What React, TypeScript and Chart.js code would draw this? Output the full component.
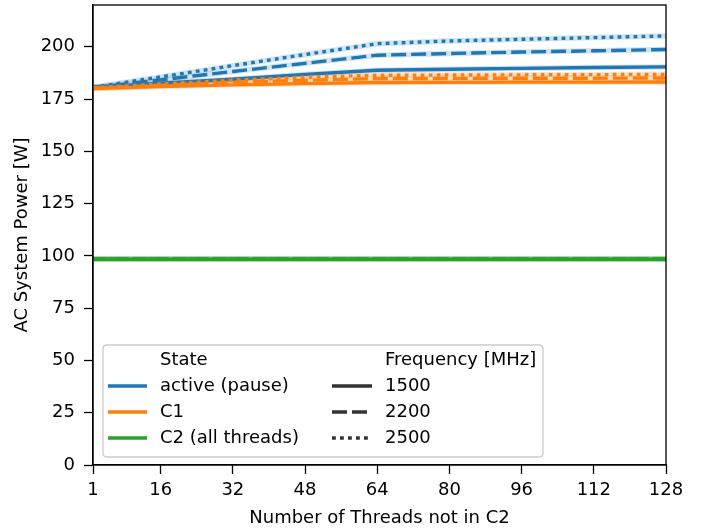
import React, { useEffect, useRef } from "react";
import { Chart, registerables } from "chart.js";

Chart.register(...registerables);

// ---- data ----
const threads = [1, 16, 32, 48, 64, 80, 96, 112, 128];
const xTickValues = [1, 16, 32, 48, 64, 80, 96, 112, 128];
const yTickValues = [0, 25, 50, 75, 100, 125, 150, 175, 200];

const states = ["active (pause)", "C1", "C2 (all threads)"];
const frequencies = ["1500", "2200", "2500"];

const active1500 = [180.5, 182.6, 184.5, 186.8, 188.8, 189.3, 189.7, 190.1, 190.4];
const active2200 = [180.5, 184.2, 188.2, 192.1, 196.0, 196.8, 197.5, 198.1, 198.7];
const active2500 = [180.6, 185.6, 191.0, 196.3, 201.5, 202.8, 203.6, 204.4, 205.2];

const c1_1500 = [180.0, 181.0, 181.8, 182.4, 182.9, 183.0, 183.1, 183.1, 183.2];
const c1_2200 = [180.2, 181.6, 183.0, 184.0, 184.8, 184.9, 185.0, 185.0, 185.1];
const c1_2500 = [180.4, 182.2, 184.0, 185.5, 186.4, 186.5, 186.6, 186.7, 186.8];

const c2_1500 = [98.4, 98.4, 98.4, 98.4, 98.4, 98.4, 98.4, 98.4, 98.4];
const c2_2200 = [98.5, 98.5, 98.5, 98.5, 98.5, 98.5, 98.5, 98.5, 98.5];
const c2_2500 = [98.6, 98.6, 98.6, 98.6, 98.6, 98.6, 98.6, 98.6, 98.6];

const seriesByState = [
  [active1500, active2200, active2500],
  [c1_1500, c1_2200, c1_2500],
  [c2_1500, c2_2200, c2_2500],
];

// ---- styles ----
const stateColors = ["#1f77b4", "#ff7f0e", "#2ca02c"];
const bandColors = ["rgba(31,119,180,0.2)", "rgba(255,127,14,0.2)", "rgba(44,160,44,0.2)"];
const dashes: number[][] = [[], [15, 5], [3.8, 4.2]];
const LW = 3.4;
const FONT = "DejaVu Sans";
const FS = 18;

const framePlugin = {
  id: "frame",
  afterDatasetsDraw(chart: any) {
    const { ctx, chartArea } = chart;
    ctx.save();
    ctx.strokeStyle = "#000";
    ctx.lineWidth = 1.3;
    ctx.strokeRect(chartArea.left, chartArea.top, chartArea.right - chartArea.left, chartArea.bottom - chartArea.top);
    ctx.restore();
  },
};

const legendPlugin = {
  id: "customLegend",
  afterDraw(chart: any) {
    const { ctx, chartArea } = chart;
    const w = 440;
    const h = 112;
    const x0 = chartArea.left + 10;
    const y0 = chartArea.bottom - 8 - h;
    ctx.save();
    const r = 4;
    ctx.beginPath();
    ctx.moveTo(x0 + r, y0);
    ctx.lineTo(x0 + w - r, y0);
    ctx.quadraticCurveTo(x0 + w, y0, x0 + w, y0 + r);
    ctx.lineTo(x0 + w, y0 + h - r);
    ctx.quadraticCurveTo(x0 + w, y0 + h, x0 + w - r, y0 + h);
    ctx.lineTo(x0 + r, y0 + h);
    ctx.quadraticCurveTo(x0, y0 + h, x0, y0 + h - r);
    ctx.lineTo(x0, y0 + r);
    ctx.quadraticCurveTo(x0, y0, x0 + r, y0);
    ctx.closePath();
    ctx.fillStyle = "rgba(255,255,255,0.8)";
    ctx.fill();
    ctx.strokeStyle = "#cccccc";
    ctx.lineWidth = 1.3;
    ctx.stroke();

    ctx.font = `${FS}px "${FONT}"`;
    ctx.textBaseline = "middle";
    ctx.textAlign = "left";
    ctx.fillStyle = "#000";
    const rowY = (i: number) => y0 + 15 + i * 26;
    ctx.fillText("State", x0 + 57, rowY(0));
    ctx.fillText("Frequency [MHz]", x0 + 282, rowY(0));
    states.forEach((s, i) => {
      ctx.strokeStyle = stateColors[i];
      ctx.lineWidth = LW;
      ctx.setLineDash([]);
      ctx.beginPath();
      ctx.moveTo(x0 + 5, rowY(i + 1));
      ctx.lineTo(x0 + 44, rowY(i + 1));
      ctx.stroke();
      ctx.fillStyle = "#000";
      ctx.fillText(s, x0 + 57, rowY(i + 1));
    });
    frequencies.forEach((f, i) => {
      ctx.strokeStyle = "#333333";
      ctx.lineWidth = LW;
      ctx.setLineDash(dashes[i]);
      ctx.beginPath();
      ctx.moveTo(x0 + 229, rowY(i + 1));
      ctx.lineTo(x0 + 269, rowY(i + 1));
      ctx.stroke();
      ctx.setLineDash([]);
      ctx.fillStyle = "#000";
      ctx.fillText(f, x0 + 282, rowY(i + 1));
    });
    ctx.restore();
  },
};

export default function App() {
  const ref = useRef<HTMLCanvasElement>(null);

  useEffect(() => {
    if (!ref.current) return;
    const datasets: any[] = [];
    let idx = 0;
    states.forEach((s, si) => {
      frequencies.forEach((f, fi) => {
        const vals = seriesByState[si][fi];
        const pts = threads.map((x, i) => ({ x, y: vals[i] }));
        datasets.push({
          label: `${s} ${f} band`,
          data: pts,
          borderColor: bandColors[si],
          borderWidth: 5.5,
          pointRadius: 0,
          fill: false,
          tension: 0,
          order: 200 - idx,
        });
        datasets.push({
          label: `${s} ${f}`,
          data: pts,
          borderColor: stateColors[si],
          borderWidth: LW,
          borderDash: dashes[fi],
          borderCapStyle: "butt",
          pointRadius: 0,
          fill: false,
          tension: 0,
          order: 50 - idx,
        });
        idx++;
      });
    });

    const tickFont = { family: FONT, size: FS };
    const chart = new Chart(ref.current, {
      type: "line",
      data: { datasets },
      options: {
        animation: false,
        responsive: false,
        layout: { padding: { top: 5, right: 36, left: 0, bottom: 0 } },
        plugins: { legend: { display: false }, tooltip: { enabled: false } },
        scales: {
          x: {
            type: "linear",
            min: 1,
            max: 128,
            afterBuildTicks: (scale: any) => {
              scale.ticks = xTickValues.map((v) => ({ value: v }));
            },
            afterFit: (scale: any) => {
              scale.height = 64;
              scale.paddingLeft = 0;
              scale.paddingRight = 0;
            },
            ticks: { font: tickFont, color: "#000", autoSkip: false, maxRotation: 0, padding: 6 },
            grid: { drawOnChartArea: false, drawTicks: true, tickLength: 9, tickColor: "#000", tickWidth: 1.3 },
            border: { display: true, color: "#000", width: 1.3 },
            title: {
              display: true,
              text: "Number of Threads not in C2",
              font: tickFont,
              color: "#000",
              padding: { top: 0, bottom: 0 },
            },
          },
          y: {
            type: "linear",
            min: 0,
            max: 220,
            afterBuildTicks: (scale: any) => {
              scale.ticks = yTickValues.map((v) => ({ value: v }));
            },
            afterFit: (scale: any) => {
              scale.width = 93;
              scale.paddingTop = 0;
              scale.paddingBottom = 0;
            },
            ticks: { font: tickFont, color: "#000", padding: 9 },
            grid: { drawOnChartArea: false, drawTicks: true, tickLength: 9, tickColor: "#000", tickWidth: 1.3 },
            border: { display: true, color: "#000", width: 1.3 },
            title: {
              display: true,
              text: "AC System Power [W]",
              font: tickFont,
              color: "#000",
              padding: { top: 12, bottom: 0 },
            },
          },
        },
      },
      plugins: [framePlugin, legendPlugin],
    } as any);
    return () => chart.destroy();
  }, []);

  return (
    <div style={{ position: "absolute", left: 0, top: 0, width: 702, height: 529 }}>
      <canvas ref={ref} width={702} height={529} style={{ display: "block" }} />
    </div>
  );
}
